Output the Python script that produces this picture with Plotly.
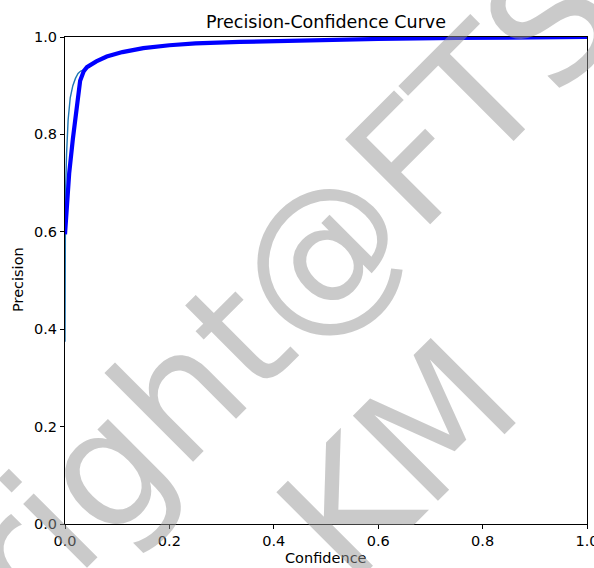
import plotly.graph_objects as go

# ---- data ----
conf_all = [0.0, 0.003, 0.008, 0.015, 0.022, 0.029, 0.036, 0.042, 0.06, 0.08, 0.11,
            0.15, 0.2, 0.25, 0.335, 0.45, 0.6, 0.75, 0.85, 0.92, 1.0]
prec_all = [0.595, 0.64, 0.72, 0.79, 0.86, 0.91, 0.93, 0.938, 0.95, 0.96, 0.969,
            0.977, 0.983, 0.987, 0.99, 0.993, 0.996, 0.998, 0.9995, 1.0, 1.0]

conf_cls = [0.0, 0.0, 0.001, 0.003, 0.006, 0.01, 0.015, 0.02, 0.025, 0.03, 0.036,
            0.042, 0.06, 0.08, 0.11, 0.15, 0.2, 0.25, 0.335, 0.45, 0.6, 0.75, 0.85, 0.92, 1.0]
prec_cls = [0.374, 0.6, 0.68, 0.76, 0.83, 0.875, 0.9, 0.915, 0.925, 0.93, 0.932,
            0.938, 0.95, 0.96, 0.969, 0.977, 0.983, 0.987, 0.99, 0.993, 0.996, 0.998, 0.9995, 1.0, 1.0]

tick_vals = [0.0, 0.2, 0.4, 0.6, 0.8, 1.0]
tick_text = ["0.0", "0.2", "0.4", "0.6", "0.8", "1.0"]

title_text = "Precision-Confidence Curve"
x_label = "Confidence"
y_label = "Precision"
watermark_1 = "Copyright@FTS"
watermark_2 = "KM"

W, H = 594, 568
L, R, T, B = 65, 7, 37, 44
pw, ph = W - L - R, H - T - B

def px(xp):
    return (xp - L) / pw

def py(yp):
    return (H - B - yp) / ph

font = "DejaVu Sans"

fig = go.Figure()
fig.add_trace(go.Scatter(x=conf_cls, y=prec_cls, mode="lines",
                         line=dict(color="#1f77b4", width=1.4), showlegend=False))
fig.add_trace(go.Scatter(x=conf_all, y=prec_all, mode="lines",
                         line=dict(color="rgb(0,0,255)", width=4.2), showlegend=False))

axis_common = dict(range=[0, 1], showgrid=False, zeroline=False, showline=True,
                   linecolor="black", linewidth=1, mirror=True, ticks="outside",
                   ticklen=4, tickwidth=1, tickcolor="black",
                   tickvals=tick_vals, ticktext=tick_text,
                   ticklabeloverflow="allow", automargin=False,
                   tickfont=dict(family=font, size=14.5, color="black"))
fig.update_xaxes(**axis_common)
fig.update_yaxes(**axis_common)

fig.update_layout(
    width=W, height=H,
    margin=dict(l=L, r=R, t=T, b=B, autoexpand=False),
    paper_bgcolor="white", plot_bgcolor="white",
    title=dict(text=title_text, x=0.5, xref="paper", y=1 - 22 / H, yref="container",
               xanchor="center", yanchor="middle",
               font=dict(family=font, size=17.5, color="black")),
    annotations=[
        dict(text=x_label, xref="paper", yref="paper", x=0.5, y=py(558),
             showarrow=False, xanchor="center", yanchor="middle",
             font=dict(family=font, size=14.5, color="black")),
        dict(text=y_label, xref="paper", yref="paper", x=px(18), y=py(280),
             showarrow=False, xanchor="center", yanchor="middle", textangle=-90,
             font=dict(family=font, size=14.5, color="black")),
        dict(text=watermark_1, xref="paper", yref="paper", x=px(140), y=py(434),
             showarrow=False, xanchor="center", yanchor="middle", textangle=-45,
             font=dict(family=font, size=165, color="rgba(150,150,150,0.5)")),
        dict(text=watermark_2, xref="paper", yref="paper", x=px(398), y=py(460),
             showarrow=False, xanchor="center", yanchor="middle", textangle=-45,
             font=dict(family=font, size=165, color="rgba(150,150,150,0.5)")),
    ],
)

fig.write_html("out.html")
